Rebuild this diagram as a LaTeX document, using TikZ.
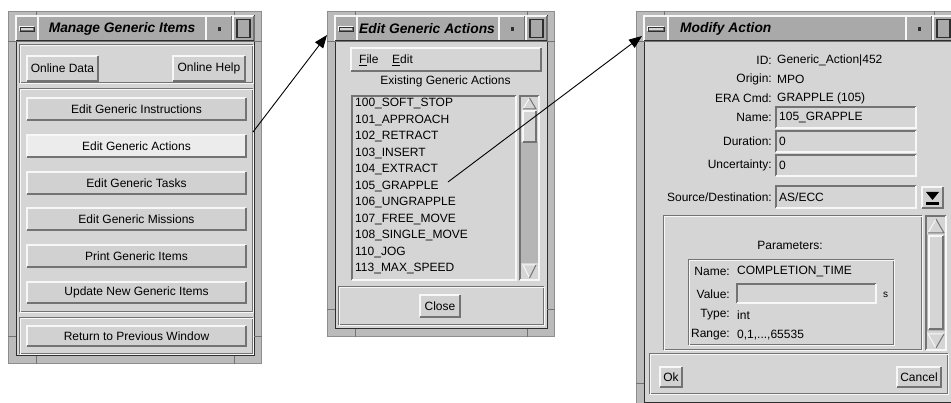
\documentclass[tikz,border=0pt]{standalone}
\usepackage{fontspec}
\setmainfont{Liberation Sans}
\usetikzlibrary{arrows.meta}
\definecolor{uibg}{HTML}{D5D5D5}
\definecolor{uibtn}{HTML}{D1D1D1}
\definecolor{uihi}{HTML}{ECECEC}
\definecolor{uilt}{HTML}{F7F7F7}
\definecolor{uidk}{HTML}{737373}
\definecolor{uimid}{HTML}{8E8E8E}
\definecolor{uiblk}{HTML}{2E2E2E}
\definecolor{uiframe}{HTML}{BBBBBB}
\definecolor{uititle}{HTML}{A9A9A9}
\definecolor{uitrough}{HTML}{B5B5B5}
\newcommand\uiraise[5]{%
  \fill[#5] (#1,#2) rectangle (#3,#4);
  \draw[uilt,line width=1.5] (#1,#4) -- (#1,#2) -- (#3,#2);
  \draw[uidk,line width=1.5] (#3,#2) -- (#3,#4) -- (#1,#4);}
\newcommand\uisink[5]{%
  \fill[#5] (#1,#2) rectangle (#3,#4);
  \draw[uidk,line width=1.5] (#1,#4) -- (#1,#2) -- (#3,#2);
  \draw[uilt,line width=1.5] (#3,#2) -- (#3,#4) -- (#1,#4);}
\newcommand\uietch[4]{%
  \draw[uidk,line width=1] (#1,#2) rectangle (#3,#4);
  \draw[uilt,line width=1] (#1+1,#2+1) rectangle (#3+1,#4+1);}
\newcommand\uiwindow[4]{%
  \fill[uiframe] (#1,#2) rectangle (#3,#4);
  \draw[uimid,line width=1] (#1+0.5,#2+0.5) rectangle (#3-0.5,#4-0.5);
  \fill[uibg] (#1+8,#2+5) rectangle (#3-8,#4-8);
  \draw[uiblk,line width=1] (#1+8,#2+5) rectangle (#3-8,#4-8);
  \foreach \tx in {#1+28,#3-28} {\draw[uidk] (\tx,#2) -- (\tx,#2+5); \draw[uidk] (\tx,#4-8) -- (\tx,#4);}
  \foreach \ty in {#2+30,#4-28} {\draw[uidk] (#1,\ty) -- (#1+8,\ty); \draw[uidk] (#3-8,\ty) -- (#3,\ty);}}
\newcommand\uititlebar[5]{%
  \fill[uititle] (#1,#3) rectangle (#2,#4);
  \uiraise{#1}{#3}{#1+#5}{#4}{uititle}
  \uiraise{#1+#5}{#3}{#2-48}{#4}{uititle}
  \uiraise{#1+4}{#3+11}{#1+#5-4}{#3+15}{uibg}
  \draw[uiblk,line width=0.8] (#1+4,#3+11) rectangle (#1+#5-4,#3+15);
  \uiraise{#2-48}{#3}{#2-22}{#4}{uititle}
  \fill[uiblk] (#2-36.5,#3+11.5) rectangle (#2-33,#3+15);
  \uiraise{#2-21}{#3}{#2}{#4}{uititle}
  \draw[uiblk,line width=1.2] (#2-17,#3+3.5) rectangle (#2-4,#4-3.5);
  \draw[uiblk,line width=1] (#1,#4) -- (#2,#4);}
\newcommand\uiuparrow[4]{% x1 y1 x2 y2
  \fill[uibg] (#1,#4) -- ({(#1+#3)/2},#2) -- (#3,#4) -- cycle;
  \draw[uilt,line width=1] (#1,#4) -- ({(#1+#3)/2},#2);
  \draw[uidk,line width=1] ({(#1+#3)/2},#2) -- (#3,#4) -- (#1,#4);}
\newcommand\uidnarrow[4]{%
  \fill[uibg] (#1,#2) -- ({(#1+#3)/2},#4) -- (#3,#2) -- cycle;
  \draw[uilt,line width=1] (#3,#2) -- (#1,#2) -- ({(#1+#3)/2},#4);
  \draw[uidk,line width=1] ({(#1+#3)/2},#4) -- (#3,#2);}
\tikzset{
  uitxt/.style={inner sep=0pt, font=\fontsize{12}{14}\selectfont, text=black},
  uihead/.style={inner sep=0pt, font=\fontsize{13.8}{16}\selectfont\bfseries\itshape, text=black},
  uiarrow/.style={line width=0.9, black, -{Triangle[length=13,width=10]}}
}
\begin{document}
\begin{tikzpicture}[x=1pt,y=-1pt]
\useasboundingbox (0,0) rectangle (951,403);
\fill[white] (0,0) rectangle (951,403);

% ---------------- Window 1 ----------------
\uiwindow{8}{11}{262}{364}
\uititlebar{16}{254}{16}{41}{22}
\node[uihead] (w1title) at (122,29) {Manage Generic Items};
\uietch{19}{45}{252}{83}
\uiraise{27}{56}{98}{81}{uibtn}
\node[uitxt] (onlinedata) at (62.5,68.5) {Online Data};
\uiraise{173}{56}{245}{81}{uibtn}
\node[uitxt] (onlinehelp) at (209,68.5) {Online Help};
\uietch{19}{89}{252}{312}
\uiraise{27}{98}{246}{120}{uibtn}
\node[uitxt] (b1) at (136.5,109) {Edit Generic Instructions};
\uiraise{27}{135}{246}{157}{uihi}
\node[uitxt] (b2) at (136.5,146) {Edit Generic Actions};
\uiraise{27}{172}{246}{194}{uibtn}
\node[uitxt] (b3) at (136.5,183) {Edit Generic Tasks};
\uiraise{27}{208}{246}{230}{uibtn}
\node[uitxt] (b4) at (136.5,219) {Edit Generic Missions};
\uiraise{27}{245}{246}{267}{uibtn}
\node[uitxt] (b5) at (136.5,256) {Print Generic Items};
\uiraise{27}{282}{246}{303}{uibtn}
\node[uitxt] (b6) at (136.5,292.5) {Update New Generic Items};
\uietch{19}{318}{252}{354}
\uiraise{27}{326}{246}{346}{uibtn}
\node[uitxt] (b7) at (136.5,336) {Return to Previous Window};

% ---------------- Window 2 ----------------
\uiwindow{327}{11}{555}{337}
\uititlebar{335}{547}{16}{41}{22}
\node[uihead] (w2title) at (427,29) {Edit Generic Actions};
\uiraise{351}{48}{541}{71}{uibg}
\node[uitxt, anchor=west] (mfile) at (359,60) {\underline{F}ile};
\node[uitxt, anchor=west] (medit) at (392,60) {\underline{E}dit};
\node[uitxt] (exlabel) at (445.5,81) {Existing Generic Actions};
\uisink{352}{96}{516}{280}{uibg}
\foreach \lbl [count=\i from 0] in {100\_SOFT\_STOP,101\_APPROACH,102\_RETRACT,103\_INSERT,104\_EXTRACT,105\_GRAPPLE,106\_UNGRAPPLE,107\_FREE\_MOVE,108\_SINGLE\_MOVE,110\_JOG,113\_MAX\_SPEED}
  \node[uitxt, anchor=west] (item\i) at (355,104+16.5*\i) {\lbl};
\uisink{520}{96}{539}{280}{uitrough}
\fill[uibg] (521,97) rectangle (538,142);
\uiuparrow{523}{98}{536}{109}
\uiraise{523}{111}{536}{142}{uibg}
\fill[uibg] (521,263) rectangle (538,279);
\uidnarrow{523}{265}{536}{278}
\uietch{338}{287}{543}{325}
\uiraise{420}{295}{460}{317}{uibtn}
\node[uitxt] (close) at (440,306) {Close};

% ---------------- Window 3 ----------------
\uiwindow{636}{11}{962}{411}
\uititlebar{644}{954}{16}{41}{24}
\node[uihead, anchor=west] (w3title) at (680,29) {Modify Action};
\node[uitxt, anchor=east] (lid) at (772,60) {ID:};
\node[uitxt, anchor=west] (vid) at (777,60) {Generic\_Action|452};
\node[uitxt, anchor=east] (lorig) at (772,79) {Origin:};
\node[uitxt, anchor=west] (vorig) at (777,79) {MPO};
\node[uitxt, anchor=east] (lera) at (772,98) {ERA Cmd:};
\node[uitxt, anchor=west] (vera) at (777,98) {GRAPPLE (105)};
\node[uitxt, anchor=east] (lname) at (772,117.5) {Name:};
\uisink{776}{107}{916}{128}{uibg}
\node[uitxt, anchor=west] (vname) at (779,117.5) {105\_GRAPPLE};
\node[uitxt, anchor=east] (ldur) at (772,141.5) {Duration:};
\uisink{776}{131}{916}{152}{uibg}
\node[uitxt, anchor=west] (vdur) at (779,141.5) {0};
\node[uitxt, anchor=east] (lunc) at (772,165.5) {Uncertainty:};
\uisink{776}{155}{916}{176}{uibg}
\node[uitxt, anchor=west] (vunc) at (779,165.5) {0};
\node[uitxt, anchor=east] (lsrc) at (772,197) {Source/Destination:};
\uisink{776}{186}{916}{208}{uibg}
\node[uitxt, anchor=west] (vsrc) at (779,197) {AS/ECC};
\uiraise{922}{187}{943}{208}{uibtn}
\fill[black] (926,192) -- (939,192) -- (932.5,200) -- cycle;
\fill[black] (926,202.5) rectangle (939,205);
% parameters area
\uietch{663}{216}{921}{350}
\node[uitxt] (lparams) at (790,245) {Parameters:};
\uietch{688}{260}{893}{345}
\node[uitxt, anchor=east] (lpname) at (730,271.5) {Name:};
\node[uitxt, anchor=west] (vpname) at (737,271.5) {COMPLETION\_TIME};
\node[uitxt, anchor=east] (lpval) at (730,294) {Value:};
\uisink{737}{284}{876}{303}{uibg}
\node[uitxt, anchor=west] (unit) at (883,294.5) {\fontsize{10}{12}\selectfont s};
\node[uitxt, anchor=east] (lptype) at (730,315) {Type:};
\node[uitxt, anchor=west] (vptype) at (737,315) {int};
\node[uitxt, anchor=east] (lprange) at (730,335) {Range:};
\node[uitxt, anchor=west] (vprange) at (737,335) {0,1,...,65535};
\uisink{926}{216}{946}{350}{uitrough}
\fill[uibg] (927,217) rectangle (945,235);
\uiuparrow{928}{219}{944}{233}
\uiraise{929}{236}{943}{329}{uibg}
\fill[uibg] (927,331) rectangle (945,349);
\uidnarrow{928}{334}{944}{348}
% bottom buttons
\uietch{649}{354}{947}{394}
\uiraise{660}{367}{682}{387}{uibtn}
\node[uitxt] (ok) at (671,377) {Ok};
\uiraise{897}{367}{941}{387}{uibtn}
\node[uitxt] (cancel) at (919,377) {Cancel};

% ---------------- Arrows ----------------
\coordinate (a1s) at (253,132);
\coordinate (a1e) at (327,35);
\coordinate (a2s) at (448,182);
\coordinate (a2e) at (642,36);
\draw[uiarrow] (a1s) -- (a1e);
\draw[uiarrow] (a2s) -- (a2e);
\end{tikzpicture}
\end{document}
